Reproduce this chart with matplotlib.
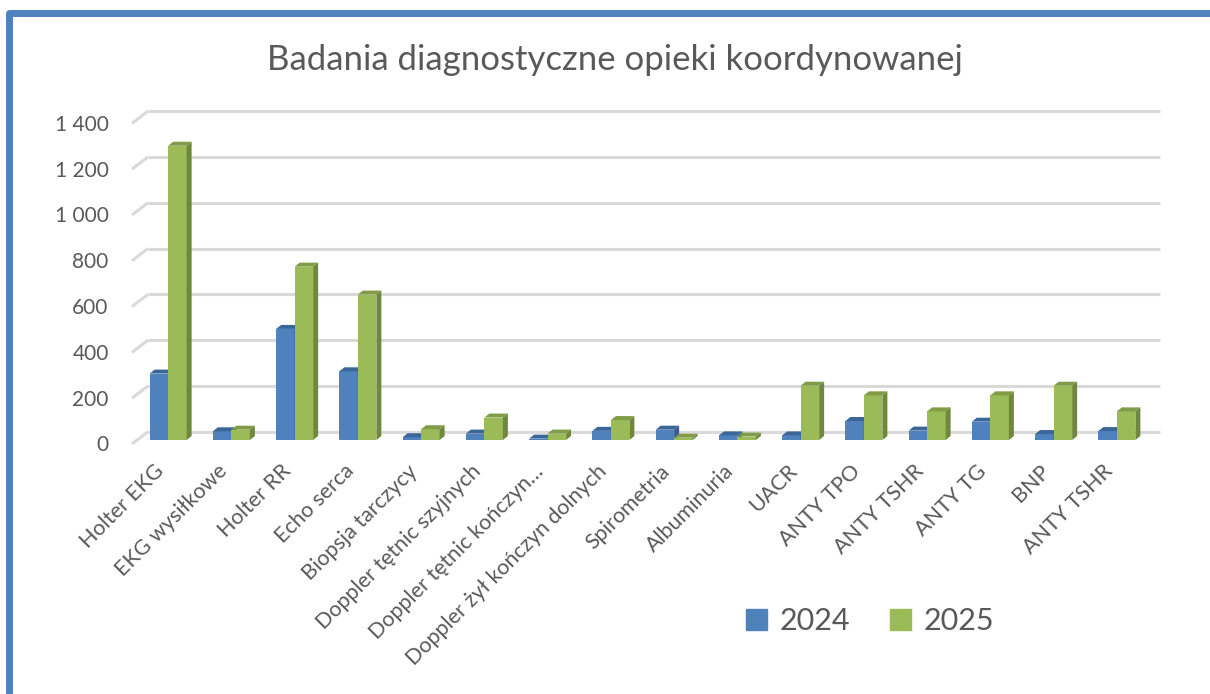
import matplotlib
matplotlib.use("Agg")
import matplotlib.pyplot as plt
from matplotlib.patches import Polygon, Patch
from matplotlib.lines import Line2D
from matplotlib.transforms import ScaledTranslation
import numpy as np

plt.rcParams['font.family'] = ['Lato', 'DejaVu Sans']

# data
categories = ['Holter EKG', 'EKG wysiłkowe', 'Holter RR', 'Echo serca',
              'Biopsja tarczycy', 'Doppler tętnic szyjnych',
              'Doppler tętnic kończyn…', 'Doppler żył kończyn dolnych',
              'Spirometria', 'Albuminuria', 'UACR', 'ANTY TPO', 'ANTY TSHR',
              'ANTY TG', 'BNP', 'ANTY TSHR']
v2024 = [290, 38, 485, 300, 12, 28, 6, 40, 45, 20, 20, 83, 41, 80, 26, 39]
v2025 = [1285, 45, 757, 635, 47, 98, 28, 87, 10, 15, 237, 195, 125, 195, 237, 125]
yticks = [0, 200, 400, 600, 800, 1000, 1200, 1400]
series = ['2024', '2025']

txt = '#595959'
blue = ('#4F81BD', '#3B6798', '#385D8A')   # front, top, side
green = ('#9BBB59', '#809C47', '#6F883E')

W, H = 1210, 694
fig = plt.figure(figsize=(W / 100, H / 100), dpi=100)
fig.patch.set_facecolor('white')

# axes placed so the front plane of the bars matches the reference
x0px, x1px = 136.5, 1148.5
ppu = 0.229            # pixels per value unit
base = 440.0           # pixel row of value 0 (front)
ylo, yhi = -50, 1450
bot = base - ylo * ppu
top = base - yhi * ppu
ax = fig.add_axes([x0px / W, 1 - bot / H, (x1px - x0px) / W, (bot - top) / H])
ax.set_xlim(-0.5, len(categories) - 0.5)
ax.set_ylim(ylo, yhi)
for s in ax.spines.values():
    s.set_visible(False)
ax.set_facecolor('none')

cat_px = (x1px - x0px) / len(categories)
# back wall offset and floor depth (data units)
wdx, wdy = 11.5 / cat_px, 8.3 / ppu
fdx, fdy = 16.0 / cat_px, 12.3 / ppu
for v in yticks:
    yb = v + wdy
    ax.plot([-0.5 + wdx, len(categories) - 0.5 + wdx], [yb, yb],
            color='#D9D9D9', lw=2.2, solid_capstyle='butt', clip_on=False, zorder=1)
    ax.plot([-0.5 + wdx - fdx, -0.5 + wdx], [yb - fdy, yb],
            color='#D9D9D9', lw=2.2, solid_capstyle='butt', clip_on=False, zorder=1)

# 3D columns
bw = 18.5 / cat_px
ddx, ddy = 5.0 / cat_px, 4.0 / ppu
x = np.arange(len(categories))
for i in range(len(categories)):
    for k, (vals, col) in enumerate([(v2024, blue), (v2025, green)]):
        xl = x[i] - bw + k * bw
        xr = xl + bw
        v = vals[i]
        ax.bar(xl, v, width=bw, align='edge', color=col[0], lw=0, zorder=3 + 2 * i + k)
        ax.add_patch(Polygon([(xl, v), (xr, v), (xr + ddx, v + ddy), (xl + ddx, v + ddy)],
                             closed=True, fc=col[1], lw=0, clip_on=False, zorder=3 + 2 * i + k))
        ax.add_patch(Polygon([(xr, 0), (xr, v), (xr + ddx, v + ddy), (xr + ddx, ddy)],
                             closed=True, fc=col[2], lw=0, clip_on=False, zorder=3 + 2 * i + k))

# y labels sit at the front floor edge
ax.set_yticks([v - 15 for v in yticks])
ax.set_yticklabels([f'{v:,}'.replace(',', ' ') for v in yticks], fontsize=15, color=txt)
ax.tick_params(axis='y', length=0, pad=20)
ax.set_xticks(x)
ax.set_xticklabels(categories, rotation=45, ha='right', va='center',
                   rotation_mode='anchor', fontsize=15.5, color=txt)
ax.tick_params(axis='x', length=0, pad=12)
shift = ScaledTranslation(-7 / 100, 0, fig.dpi_scale_trans)
for lbl in ax.get_xticklabels():
    lbl.set_transform(lbl.get_transform() + shift)

fig.text(615 / W, 1 - 70 / H, 'Badania diagnostyczne opieki koordynowanej',
         ha='center', va='baseline', fontsize=25, color=txt)

handles = [Patch(color=blue[0]), Patch(color=green[0])]
fig.legend(handles, series, loc='center', bbox_to_anchor=(870 / W, 1 - 621 / H),
           ncol=2, frameon=False, fontsize=22, labelcolor=txt,
           handlelength=0.7, handleheight=0.7, handletextpad=0.4, columnspacing=1.3)

# blue frame on the left and top
fig.add_artist(Line2D([9 / W, 9 / W, 1.0], [0.0, 1 - 13 / H, 1 - 13 / H],
                      transform=fig.transFigure, color='#4F81BD', lw=5,
                      solid_joinstyle='round'))

fig.savefig('out.png', dpi=100)
